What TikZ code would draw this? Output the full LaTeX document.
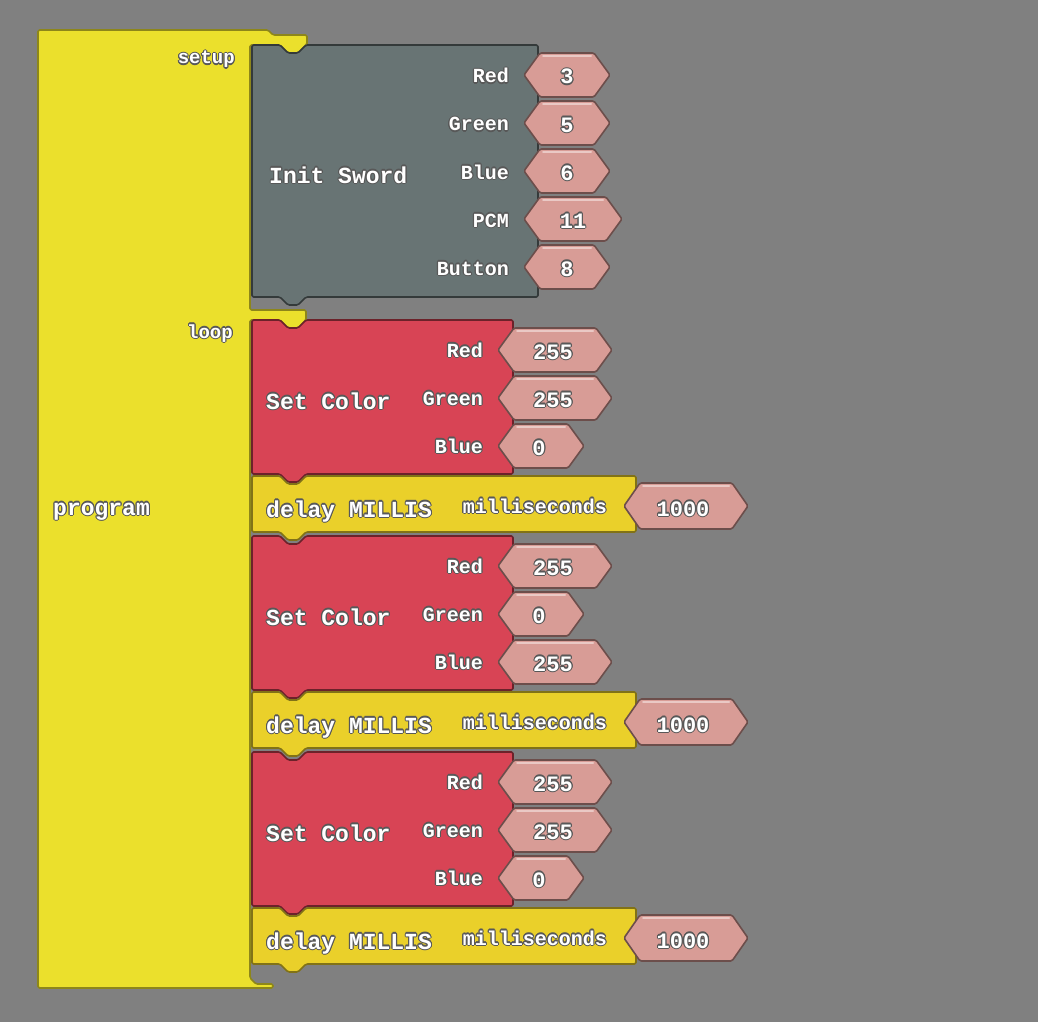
\documentclass[tikz,border=0pt]{standalone}
\usepackage{fontspec}
\setmainfont{Liberation Mono}
\usepackage[copies]{contour}
\contourlength{1.1pt}
\contournumber{12}
\definecolor{bg}{RGB}{128,128,128}
\definecolor{progyellow}{RGB}{235,224,44}
\definecolor{delayyellow}{RGB}{234,208,42}
\definecolor{initgray}{RGB}{104,116,116}
\definecolor{setred}{RGB}{216,68,85}
\definecolor{valpink}{RGB}{216,156,150}
\definecolor{halo}{RGB}{88,88,88}
\newcommand{\halotext}[1]{\contour{halo}{#1}}

\begin{document}
\begin{tikzpicture}[x=1pt,y=-1pt,
    block/.style={line width=1.6pt,line join=round,rounded corners=1.5pt},
    prog/.style={block,fill=progyellow,draw=progyellow!60!black},
    init/.style={block,fill=initgray,draw=initgray!50!black},
    setc/.style={block,fill=setred,draw=setred!50!black},
    delay/.style={block,fill=delayyellow,draw=delayyellow!55!black},
    valbox/.style={block,fill=valpink,draw=valpink!50!black},
    valhl/.style={line width=2pt,draw=valpink!55!white,line cap=round},
    bigtxt/.style={text=white,font=\bfseries\fontsize{23}{25}\selectfont,inner sep=0pt},
    smalltxt/.style={text=white,font=\bfseries\fontsize{20}{22}\selectfont,inner sep=0pt},
    tinytxt/.style={text=white,font=\bfseries\fontsize{19}{21}\selectfont,inner sep=0pt},
    numtxt/.style={text=white,font=\bfseries\fontsize{22}{24}\selectfont,inner sep=0pt}]
    \path[use as bounding box,fill=bg] (0,0) rectangle (1038,1022);

    % program
    \draw[prog] (38,30) -- (268,30) -- (273,35) -- (307,35) -- (307,45) -- (306,45) -- (298,53) -- (288,53) -- (280,45) -- (250,45)
        -- (250,310) -- (306,310) -- (306,320) -- (298,328) -- (288,328) -- (280,320) -- (250,320)
        -- (250,978) -- (256,984) -- (273,984) -- (273,988) -- (38,988) -- cycle;
    \node[tinytxt,anchor=base east] (setup) at (235,64) {\halotext{setup}};
    \node[tinytxt,anchor=base east] (loop) at (233,338) {\halotext{loop}};
    \node[bigtxt,anchor=base west] (program) at (53,515) {\halotext{program}};

    % init sword
    \draw[init] (252,45) -- (280,45) -- (288,53) -- (298,53) -- (306,45) -- (538,45) -- (538,297)
        -- (306,297) -- (298,305) -- (288,305) -- (280,297) -- (252,297) -- cycle;
    \node[bigtxt,anchor=base west] (initsword) at (269,183) {\halotext{Init Sword}};
    \foreach \lab/\v/\r [count=\k] in {Red/3/610,Green/5/610,Blue/6/610,PCM/11/622,Button/8/610} {
        \pgfmathsetmacro\c{28+48*\k}
        \draw[valbox] (524,\c-1) -- (540,\c-23) -- (\r-16,\c-23) -- (\r,\c-1) -- (\r-16,\c+21) -- (540,\c+21) -- cycle;
        \draw[valhl] (543,\c-20) -- (\r-19,\c-20);
        \node[smalltxt,anchor=base east] (init-\lab) at (509,\c+7) {\halotext{\lab}};
        \node[numtxt,anchor=base] (init-\lab-val) at ({(524+\r)/2},\c+8) {\halotext{\v}};
    }

    % set color + delay
    \foreach \o/\gv/\gr/\bv/\br [count=\i] in {0/255/612/0/584,216/0/584/255/612,432/255/612/0/584} {
        \draw[setc] (252,320+\o) -- (280,320+\o) -- (288,328+\o) -- (298,328+\o) -- (306,320+\o) -- (513,320+\o) -- (513,474+\o)
            -- (306,474+\o) -- (298,482+\o) -- (288,482+\o) -- (280,474+\o) -- (252,474+\o) -- cycle;
        \node[bigtxt,anchor=base west] (sc\i) at (266,409+\o) {\halotext{Set Color}};
        \foreach \row/\lab/\v/\r in {0/Red/255/612,1/Green/\gv/\gr,2/Blue/\bv/\br} {
            \pgfmathsetmacro\c{350+48*\row+\o}
            \draw[valbox] (498,\c) -- (514,\c-22) -- (\r-16,\c-22) -- (\r,\c) -- (\r-16,\c+22) -- (514,\c+22) -- cycle;
            \draw[valhl] (517,\c-19) -- (\r-19,\c-19);
            \node[smalltxt,anchor=base east] (sc\i-\lab) at (483,\c+7) {\halotext{\lab}};
            \node[numtxt,anchor=base] (sc\i-\lab-val) at ({(498+\r)/2-2},\c+9) {\halotext{\v}};
        }
        \draw[delay] (252,476+\o) -- (280,476+\o) -- (288,484+\o) -- (298,484+\o) -- (306,476+\o) -- (636,476+\o) -- (636,532+\o)
            -- (306,532+\o) -- (298,540+\o) -- (288,540+\o) -- (280,532+\o) -- (252,532+\o) -- cycle;
        \draw[valbox] (624,506+\o) -- (640,483+\o) -- (732,483+\o) -- (748,506+\o) -- (732,529+\o) -- (640,529+\o) -- cycle;
        \draw[valhl] (643,486+\o) -- (729,486+\o);
        \node[bigtxt,anchor=base west] (dl\i) at (266,517+\o) {\halotext{delay MILLIS}};
        \node[smalltxt,anchor=base east] (dl\i-ms) at (607,513+\o) {\halotext{milliseconds}};
        \node[numtxt,anchor=base] (dl\i-val) at (683,516+\o) {\halotext{1000}};
    }
\end{tikzpicture}
\end{document}
